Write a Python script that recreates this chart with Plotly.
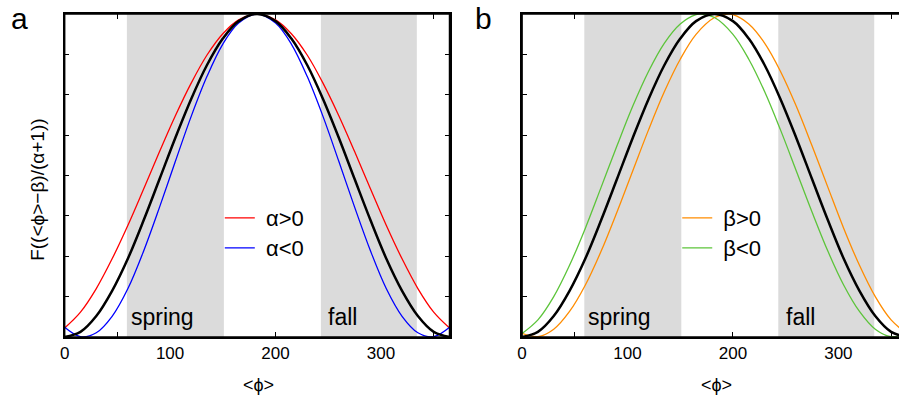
import plotly.graph_objects as go

# ---------------- data ----------------
days = [0, 15, 30, 45, 60, 75, 90, 105, 120, 135, 150, 165, 182.5,
        200, 215, 230, 245, 260, 275, 290, 305, 320, 335, 350, 365]
base_curve = [0.0, 0.016, 0.065, 0.143, 0.243, 0.362, 0.489, 0.617, 0.737, 0.842, 0.924, 0.978, 1.0,
              0.978, 0.924, 0.842, 0.737, 0.617, 0.489, 0.362, 0.243, 0.143, 0.065, 0.016, 0.0]
alpha_pos = [0.028, 0.077, 0.150, 0.242, 0.346, 0.459, 0.574, 0.685, 0.786, 0.873, 0.939, 0.982, 1.0,
             0.982, 0.939, 0.873, 0.786, 0.685, 0.574, 0.459, 0.346, 0.242, 0.150, 0.077, 0.028]
alpha_neg = [0.030, 0.001, 0.013, 0.064, 0.150, 0.267, 0.402, 0.544, 0.683, 0.807, 0.907, 0.972, 1.0,
             0.972, 0.907, 0.807, 0.683, 0.544, 0.402, 0.267, 0.150, 0.064, 0.013, 0.001, 0.030]

days_beta_pos = [0, 15, 30, 45, 60, 75, 90, 105, 120, 135, 150, 165, 182.5, 194.5,
                 200, 215, 230, 245, 260, 275, 290, 305, 320, 335, 350, 365]
beta_pos = [0.011, 0.001, 0.024, 0.079, 0.161, 0.266, 0.387, 0.515, 0.642, 0.760, 0.860, 0.937, 0.989, 1.0,
            0.998, 0.969, 0.910, 0.823, 0.715, 0.592, 0.464, 0.337, 0.222, 0.125, 0.053, 0.011]
days_beta_neg = [0, 15, 30, 45, 60, 75, 90, 105, 120, 135, 150, 165, 170.5, 182.5,
                 200, 215, 230, 245, 260, 275, 290, 305, 320, 335, 350, 365]
beta_neg = [0.011, 0.053, 0.125, 0.222, 0.337, 0.464, 0.592, 0.715, 0.823, 0.910, 0.969, 0.998, 1.0, 0.989,
            0.937, 0.860, 0.760, 0.642, 0.515, 0.387, 0.266, 0.161, 0.079, 0.024, 0.001, 0.011]

spring = [59, 151]
fall = [243, 334]

x_tick_vals = [0, 50, 100, 150, 200, 250, 300, 350]
x_tick_text = ["0", "", "100", "", "200", "", "300", ""]

# ---------------- style ----------------
FONT = "Liberation Sans, Arial, sans-serif"
GRAY = "#dbdbdb"
W, H = 899, 399

fig = go.Figure()

for xa, ya in [("x", "y"), ("x2", "y2")]:
    for band in (spring, fall):
        fig.add_trace(go.Scatter(
            x=[band[0], band[1], band[1], band[0], band[0]],
            y=[0, 0, 1, 1, 0], mode="lines", fill="toself",
            fillcolor=GRAY, line=dict(width=0), hoverinfo="skip",
            showlegend=False, xaxis=xa, yaxis=ya))

def curve(x, y, color, width, name=None, xa="x", ya="y", legend="legend"):
    return go.Scatter(x=x, y=y, mode="lines",
                      line=dict(color=color, width=width, shape="spline"),
                      name=name or "", showlegend=name is not None,
                      legend=legend, xaxis=xa, yaxis=ya, hoverinfo="skip")

fig.add_trace(curve(days, alpha_pos, "#ff0000", 1.3, "\u00a0α>0", legend="legend"))
fig.add_trace(curve(days, alpha_neg, "#0000ff", 1.3, "\u00a0α<0", legend="legend3"))
fig.add_trace(curve(days, base_curve, "#000000", 2.5))

fig.add_trace(curve(days_beta_pos, beta_pos, "#ff8c00", 1.3, "\u00a0β>0", "x2", "y2", "legend2"))
fig.add_trace(curve(days_beta_neg, beta_neg, "#5cc43a", 1.3, "\u00a0β<0", "x2", "y2", "legend4"))
fig.add_trace(curve(days, base_curve, "#000000", 2.5, None, "x2", "y2", "legend2"))

def px_x(p):
    return p / W

def px_y(p):
    return 1 - p / H

ydom = [px_y(337), px_y(14)]

xcommon = dict(tickvals=x_tick_vals, ticktext=x_tick_text, ticks="inside", ticklen=5,
               tickwidth=1, tickcolor="black", showline=True, linecolor="black",
               linewidth=1.5, mirror="ticks", showgrid=False, zeroline=False,
               layer="below traces", tickfont=dict(size=17, color="black", family=FONT),
               ticklabelstandoff=0, fixedrange=True)
ycommon = dict(range=[0, 1], tick0=0, dtick=0.125, ticks="inside", ticklen=5,
               tickwidth=1, tickcolor="black", showline=True, linecolor="black",
               linewidth=1.5, showgrid=False, zeroline=False, showticklabels=False,
               layer="below traces", domain=ydom, fixedrange=True)

def legend_at(xp, yp):
    return dict(x=px_x(xp), y=px_y(yp), xanchor="left", yanchor="top",
                bgcolor="rgba(0,0,0,0)", font=dict(size=22, family=FONT),
                tracegroupgap=0)

fig.update_layout(
    width=W, height=H, margin=dict(l=0, r=0, t=0, b=0),
    paper_bgcolor="white", plot_bgcolor="white",
    font=dict(family=FONT, color="black"),
    xaxis=dict(domain=[px_x(60), px_x(447)], range=[0, 365], anchor="y", **xcommon),
    yaxis=dict(anchor="x", mirror="ticks", **ycommon),
    xaxis2=dict(domain=[px_x(520), 1.0], range=[0, 357.5], anchor="y2", **xcommon),
    yaxis2=dict(anchor="x2", mirror=False, **ycommon),
    legend=legend_at(216, 197),
    legend3=legend_at(216, 227),
    legend2=legend_at(676, 197),
    legend4=legend_at(676, 227),
    showlegend=True,
)

# frame redrawn on top of the bands
line_style = dict(color="black", width=1.5)
fig.add_shape(type="rect", xref="x domain", yref="y domain", x0=0, x1=1, y0=0, y1=1,
              line=line_style, layer="above")
for (x0, x1, y0, y1) in [(0, 0, 0, 1), (0, 1, 0, 0), (0, 1, 1, 1)]:
    fig.add_shape(type="line", xref="x2 domain", yref="y2 domain",
                  x0=x0, x1=x1, y0=y0, y1=y1, line=line_style, layer="above")

ann = []
ann.append(dict(text="a", x=px_x(4), y=px_y(0), xref="paper", yref="paper",
                xanchor="left", yanchor="top", showarrow=False, font=dict(size=30)))
ann.append(dict(text="b", x=px_x(471), y=px_y(0), xref="paper", yref="paper",
                xanchor="left", yanchor="top", showarrow=False, font=dict(size=30)))
for xr, yr in [("x", "y"), ("x2", "y2")]:
    ann.append(dict(text="spring", x=61, y=0.062, xref=xr, yref=yr, xanchor="left",
                    yanchor="middle", showarrow=False, font=dict(size=23)))
    ann.append(dict(text="fall", x=248, y=0.062, xref=xr, yref=yr, xanchor="left",
                    yanchor="middle", showarrow=False, font=dict(size=23)))
    ann.append(dict(text="<ϕ>", x=184, y=px_y(385), xref=xr, yref="paper",
                    xanchor="center", yanchor="middle", showarrow=False, font=dict(size=18)))
ann.append(dict(text="F((<ϕ>−β)/(α+1))", x=px_x(32), y=px_y(190), xref="paper", yref="paper",
                xanchor="center", yanchor="middle", textangle=-90, showarrow=False,
                font=dict(size=19)))
fig.update_layout(annotations=ann)

fig.write_html("out.html")
